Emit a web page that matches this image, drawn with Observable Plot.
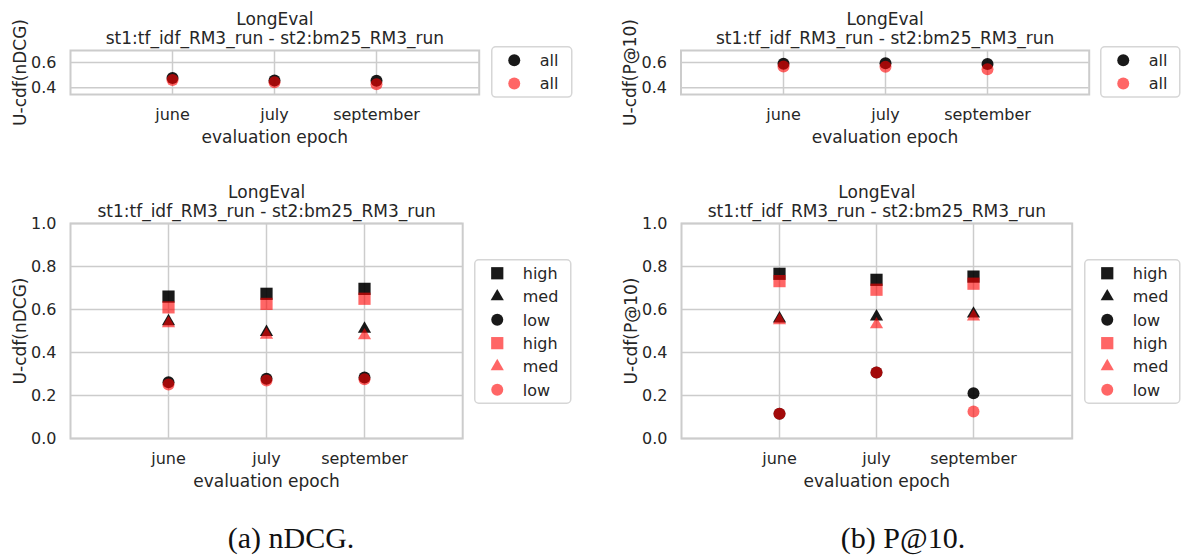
<!DOCTYPE html>
<html>
<head>
<meta charset="utf-8">
<script src="https://cdn.jsdelivr.net/npm/d3@7"></script>
<script src="https://cdn.jsdelivr.net/npm/@observablehq/plot@0.6"></script>
<style>
  html, body { margin: 0; padding: 0; background: #ffffff; }
  #root { position: relative; width: 1182px; height: 557px; overflow: hidden; background: #ffffff; }
  .cap { position: absolute; font-family: "Liberation Serif", serif; font-size: 30px; line-height: 30px; color: #111; white-space: nowrap; transform: translateX(-50%); }
</style>
</head>
<body>
<div id="root"></div>
<script>
// ---------------- data ----------------
const epochs = ["june", "july", "september"];
const titleText = "LongEval\nst1:tf_idf_RM3_run - st2:bm25_RM3_run";
const xLabel = "evaluation epoch";
const yLabelNdcg = "U-cdf(nDCG)";
const yLabelP10 = "U-cdf(P@10)";
const topTicks = [0.4, 0.6];
const bottomTicks = [0.0, 0.2, 0.4, 0.6, 0.8, 1.0];
const topDomain = [0.347, 0.695];
const bottomDomain = [0, 1];

// nDCG (st1 = black, st2 = red)
const ndcgAllSt1 = [0.478, 0.458, 0.455];
const ndcgAllSt2 = [0.462, 0.444, 0.428];
const ndcgHighSt1 = [0.660, 0.673, 0.696];
const ndcgMedSt1 = [0.545, 0.495, 0.510];
const ndcgLowSt1 = [0.262, 0.278, 0.284];
const ndcgHighSt2 = [0.610, 0.626, 0.650];
const ndcgMedSt2 = [0.535, 0.482, 0.479];
const ndcgLowSt2 = [0.251, 0.270, 0.276];

// P@10
const p10AllSt1 = [0.590, 0.594, 0.588];
const p10AllSt2 = [0.568, 0.566, 0.546];
const p10HighSt1 = [0.766, 0.738, 0.753];
const p10MedSt1 = [0.557, 0.567, 0.580];
const p10LowSt1 = [0.115, 0.307, 0.211];
const p10HighSt2 = [0.732, 0.692, 0.720];
const p10MedSt2 = [0.549, 0.530, 0.567];
const p10LowSt2 = [0.115, 0.307, 0.126];

const captionA = "(a) nDCG.";
const captionB = "(b) P@10.";

// ---------------- styles ----------------
const runStyle = {
  st1: {fill: "#000000", fillOpacity: 0.9},
  st2: {fill: "#ff0000", fillOpacity: 0.6}
};
const symR = {square: 6.9, triangle: 4.9, circle: 6.0};
const d3Sym = {square: d3.symbolSquare, triangle: d3.symbolTriangle, circle: d3.symbolCircle};
const gridColor = "#cccccc";
const textColor = "#262626";

const root = document.getElementById("root");

function rowsOf(values) {
  return epochs.map((e, i) => ({epoch: e, value: values[i]}));
}

function panel({series, yLabel, yDomain, yTicks, left, top, width, height, marginLeft, marginRight}) {
  const chart = Plot.plot({
    width, height,
    marginLeft, marginRight, marginTop: 50, marginBottom: 66,
    style: {fontFamily: "'DejaVu Sans', sans-serif", color: textColor, background: "transparent", overflow: "visible"},
    x: {type: "point", domain: epochs, padding: 1},
    y: {domain: yDomain},
    marks: [
      Plot.gridX(epochs, {stroke: gridColor, strokeOpacity: 1, strokeWidth: 1.5}),
      Plot.gridY(yTicks, {stroke: gridColor, strokeOpacity: 1, strokeWidth: 1.5}),
      Plot.frame({stroke: gridColor, strokeWidth: 2}),
      Plot.axisX({tickSize: 0, tickPadding: 14, fontSize: 16, label: null}),
      Plot.axisX({ticks: [], label: xLabel, labelAnchor: "center", labelOffset: 48, labelArrow: "none", fontSize: 17}),
      Plot.axisY({ticks: yTicks, tickFormat: d3.format(".1f"), tickSize: 0, tickPadding: 14, fontSize: 16, label: null}),
      Plot.axisY({ticks: [], label: yLabel, labelAnchor: "center", labelOffset: 57, labelArrow: "none", fontSize: 17}),
      Plot.text([titleText], {text: d => d, frameAnchor: "top", lineAnchor: "bottom", dy: -6.5, fontSize: 17, lineHeight: 19.5 / 17, fill: textColor}),
      ...series.map(s => Plot.dot(rowsOf(s.values), {
        x: "epoch", y: "value", symbol: s.symbol, r: symR[s.symbol],
        fill: runStyle[s.run].fill, fillOpacity: runStyle[s.run].fillOpacity, stroke: "none"
      }))
    ]
  });
  chart.style.position = "absolute";
  chart.style.left = left + "px";
  chart.style.top = top + "px";
  root.appendChild(chart);
}

function legend(left, top, w, entries) {
  const pad = 13.5, step = 23.3;
  const h = pad * 2 + step * (entries.length - 1);
  const svg = d3.select(root).append("svg")
    .style("position", "absolute").style("left", left + "px").style("top", top + "px")
    .attr("width", w + 2).attr("height", h + 2);
  svg.append("rect").attr("x", 0.75).attr("y", 0.75).attr("width", w).attr("height", h)
    .attr("rx", 4).attr("fill", "white").attr("stroke", "#d6d6d6").attr("stroke-width", 1.5);
  entries.forEach((e, i) => {
    const cy = 0.75 + pad + i * step;
    svg.append("path")
      .attr("transform", `translate(${0.75 + 22.5},${cy})`)
      .attr("d", d3.symbol(d3Sym[e.symbol], Math.PI * symR[e.symbol] ** 2)())
      .attr("fill", runStyle[e.run].fill).attr("fill-opacity", runStyle[e.run].fillOpacity);
    svg.append("text").attr("x", 0.75 + 48).attr("y", cy).attr("dy", "0.36em")
      .attr("font-family", "'DejaVu Sans', sans-serif").attr("font-size", 16).attr("fill", textColor)
      .text(e.label);
  });
}

// ---------------- panels ----------------
panel({
  series: [
    {values: ndcgAllSt1, symbol: "circle", run: "st1"},
    {values: ndcgAllSt2, symbol: "circle", run: "st2"}
  ],
  yLabel: yLabelNdcg, yDomain: topDomain, yTicks: topTicks,
  left: 0, top: 0, width: 490, height: 160, marginLeft: 70, marginRight: 11.3
});
panel({
  series: [
    {values: p10AllSt1, symbol: "circle", run: "st1"},
    {values: p10AllSt2, symbol: "circle", run: "st2"}
  ],
  yLabel: yLabelP10, yDomain: topDomain, yTicks: topTicks,
  left: 590, top: 0, width: 500, height: 160, marginLeft: 90.5, marginRight: 1.3
});
panel({
  series: [
    {values: ndcgHighSt1, symbol: "square", run: "st1"},
    {values: ndcgMedSt1, symbol: "triangle", run: "st1"},
    {values: ndcgLowSt1, symbol: "circle", run: "st1"},
    {values: ndcgHighSt2, symbol: "square", run: "st2"},
    {values: ndcgMedSt2, symbol: "triangle", run: "st2"},
    {values: ndcgLowSt2, symbol: "circle", run: "st2"}
  ],
  yLabel: yLabelNdcg, yDomain: bottomDomain, yTicks: bottomTicks,
  left: 0, top: 173, width: 470, height: 331, marginLeft: 70, marginRight: 7.8
});
panel({
  series: [
    {values: p10HighSt1, symbol: "square", run: "st1"},
    {values: p10MedSt1, symbol: "triangle", run: "st1"},
    {values: p10LowSt1, symbol: "circle", run: "st1"},
    {values: p10HighSt2, symbol: "square", run: "st2"},
    {values: p10MedSt2, symbol: "triangle", run: "st2"},
    {values: p10LowSt2, symbol: "circle", run: "st2"}
  ],
  yLabel: yLabelP10, yDomain: bottomDomain, yTicks: bottomTicks,
  left: 590, top: 173, width: 490, height: 331, marginLeft: 91, marginRight: 8.3
});

// ---------------- legends ----------------
const allEntries = [
  {symbol: "circle", run: "st1", label: "all"},
  {symbol: "circle", run: "st2", label: "all"}
];
const levelEntries = [
  {symbol: "square", run: "st1", label: "high"},
  {symbol: "triangle", run: "st1", label: "med"},
  {symbol: "circle", run: "st1", label: "low"},
  {symbol: "square", run: "st2", label: "high"},
  {symbol: "triangle", run: "st2", label: "med"},
  {symbol: "circle", run: "st2", label: "low"}
];
legend(491, 46, 80, allEntries);
legend(1100, 46, 79, allEntries);
legend(474, 259, 96, levelEntries);
legend(1084, 259, 95, levelEntries);

// ---------------- captions ----------------
for (const [txt, cx] of [[captionA, 291], [captionB, 903]]) {
  const d = document.createElement("div");
  d.className = "cap";
  d.style.left = cx + "px";
  d.style.top = "523px";
  d.textContent = txt;
  root.appendChild(d);
}
</script>
</body>
</html>
